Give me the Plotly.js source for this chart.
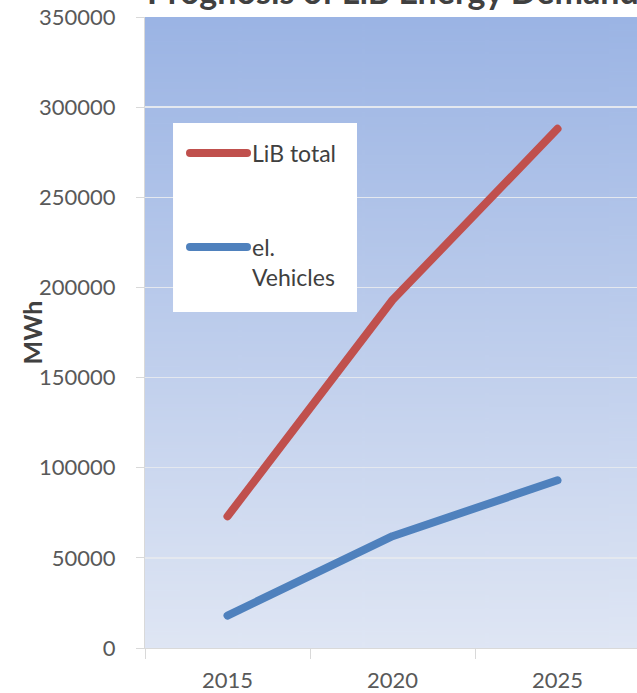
<!DOCTYPE html>
<html>
<head>
<meta charset="utf-8">
<script src="https://cdn.plot.ly/plotly-3.0.1.min.js"></script>
<style>
  html, body { margin: 0; padding: 0; background: #ffffff; overflow: hidden; }
  #chart { width: 650px; height: 693px; }
  /* rounded ends on the data lines and the legend samples */
  .scatterlayer path.js-line { stroke-linecap: round; stroke-linejoin: round; }
  .shapelayer path { stroke-linecap: round; }
</style>
</head>
<body>
<div id="chart"></div>
<script>
// Forecast of lithium-ion battery energy demand (MWh)
const years = ['2015', '2020', '2025'];
const libTotal = [73000, 193000, 288000];
const elVehicles = [18000, 62000, 93000];
const seriesNames = ['LiB total', 'el. Vehicles'];
const legendLabels = ['LiB total', 'el.<br>Vehicles'];
const seriesColors = ['#c0504d', '#4f81bd'];
const yTicks = [0, 50000, 100000, 150000, 200000, 250000, 300000, 350000];
const chartTitle = 'Prognosis of LiB Energy Demand';

// vertical gradient used as the plot-area fill
function gradientImage(top, bottom) {
  const c = document.createElement('canvas');
  c.width = 8; c.height = 400;
  const g = c.getContext('2d');
  const grad = g.createLinearGradient(0, 0, 0, c.height);
  grad.addColorStop(0, top);
  grad.addColorStop(1, bottom);
  g.fillStyle = grad;
  g.fillRect(0, 0, c.width, c.height);
  return c.toDataURL('image/png');
}

const font = 'Lato, "Open Sans", sans-serif';

const traces = [libTotal, elVehicles].map((vals, i) => ({
  type: 'scatter',
  mode: 'lines',
  x: years,
  y: vals,
  name: seriesNames[i],
  line: { color: seriesColors[i], width: 8 },
  showlegend: false,
  hoverinfo: 'x+y+name'
}));

// legend box drawn in paper coordinates
const legendShapes = [{
  type: 'rect', xref: 'paper', yref: 'paper',
  x0: 0.0566, x1: 0.4283, y0: 0.5325, y1: 0.8320,
  fillcolor: '#ffffff', line: { width: 0 }, layer: 'above'
}];
const legendRows = [0.7845, 0.6355];
const legendAnn = [];
legendRows.forEach((yy, i) => {
  legendShapes.push({
    type: 'line', xref: 'paper', yref: 'paper',
    x0: 0.0909, x1: 0.2061, y0: yy, y1: yy,
    line: { color: seriesColors[i], width: 8 }, layer: 'above'
  });
  legendAnn.push({
    xref: 'paper', yref: 'paper', x: 0.2121, y: yy + 0.026,
    xanchor: 'left', yanchor: 'top', align: 'left', showarrow: false,
    text: legendLabels[i],
    font: { family: font, size: 23, color: '#404040' }
  });
});

const layout = {
  width: 650,
  height: 693,
  margin: { l: 145, r: 10, t: 17, b: 45 },
  paper_bgcolor: '#ffffff',
  plot_bgcolor: 'rgba(0,0,0,0)',
  showlegend: false,
  xaxis: {
    type: 'category',
    range: [-0.5, 2.5],
    tickson: 'boundaries',
    ticks: 'outside', ticklen: 10, tickcolor: '#d9d9d9', tickwidth: 1,
    showgrid: false,
    showline: true, linecolor: '#d9d9d9', linewidth: 1,
    tickfont: { family: font, size: 22, color: '#595959' },
    ticklabelstandoff: 13,
    fixedrange: true
  },
  yaxis: {
    range: [0, 350000],
    tickvals: yTicks,
    ticktext: yTicks.map(String),
    ticks: 'outside', ticklen: 8, tickcolor: '#d9d9d9', tickwidth: 1,
    showgrid: true, gridcolor: '#e4e8ef', gridwidth: 1.5,
    zeroline: false,
    showline: true, linecolor: '#d9d9d9', linewidth: 1,
    tickfont: { family: font, size: 22, color: '#595959' },
    ticklabelstandoff: 16,
    fixedrange: true
  },
  images: [{
    source: gradientImage('#9bb4e4', '#dfe6f4'),
    xref: 'paper', yref: 'paper',
    x: 0, y: 1, sizex: 1, sizey: 1,
    xanchor: 'left', yanchor: 'top',
    sizing: 'stretch', layer: 'below'
  }],
  shapes: legendShapes,
  annotations: [{
    // chart title, sitting right at the top edge
    xref: 'paper', yref: 'paper',
    x: 0, y: 1.0063,
    xanchor: 'left', yanchor: 'bottom',
    showarrow: false,
    text: '<b>' + chartTitle + '</b>',
    font: { family: font, size: 34, color: '#404040' }
  }, {
    xref: 'paper', yref: 'paper',
    x: -0.2283, y: 0.5,
    xanchor: 'center', yanchor: 'middle',
    textangle: -90, showarrow: false,
    text: '<b>MWh</b>',
    font: { family: font, size: 25, color: '#404040' }
  }].concat(legendAnn)
};

Plotly.newPlot('chart', traces, layout, { displayModeBar: false, staticPlot: true });
</script>
</body>
</html>
